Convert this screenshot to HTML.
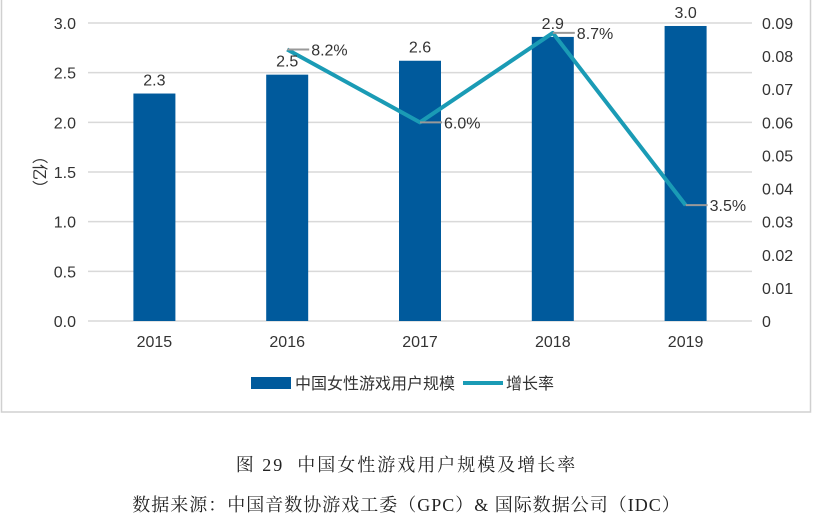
<!DOCTYPE html>
<html><head><meta charset="utf-8"><style>
body{margin:0;background:#fff;width:813px;height:526px;overflow:hidden;font-family:"Liberation Sans","Noto Sans CJK SC",sans-serif}
.cap{position:absolute;left:0;width:813px;text-align:center;font-family:"Liberation Serif","Noto Serif CJK SC",serif;font-size:18px;color:#222}
</style></head><body>
<svg width="813" height="526" style="position:absolute;left:0;top:0">
<rect x="1.5" y="-1" width="809" height="413" fill="none" stroke="#d0d0d0" stroke-width="1.5"/>
<g id="grid"></g><g id="bars"></g><g id="line"></g><g id="labels"></g>
<text transform="translate(34,172) rotate(90)" text-anchor="middle" font-size="16" fill="#333">（亿）</text>
<g>
<rect x="251" y="377" width="40" height="12" fill="#005a9c"/>
<text x="295" y="389" font-size="16" fill="#333">中国女性游戏用户规模</text>
<rect x="463" y="381" width="40" height="4" fill="#1a9bb5"/>
<text x="506" y="389" font-size="16" fill="#333">增长率</text>
</g>
</svg>
<div class="cap" style="top:451px;letter-spacing:2px">图 29&nbsp; 中国女性游戏用户规模及增长率</div>
<div class="cap" style="top:491px;letter-spacing:1px">数据来源：中国音数协游戏工委（GPC）&amp; 国际数据公司（IDC）</div>
<script>
const categories=["2015","2016","2017","2018","2019"];
const users=[2.29,2.48,2.62,2.86,2.97];
const userLabels=["2.3","2.5","2.6","2.9","3.0"];
const growth=[null,0.082,0.060,0.087,0.035];
const growthLabels=[null,"8.2%","6.0%","8.7%","3.5%"];
const leftTicks=[0,0.5,1,1.5,2,2.5,3];
const rightTicks=[0,0.01,0.02,0.03,0.04,0.05,0.06,0.07,0.08,0.09];
const NS="http://www.w3.org/2000/svg";
const x0=88,x1=752,yb=321,yt=23;
const xs=i=>x0+(x1-x0)*(i+0.5)/categories.length;
const yl=v=>yb-(yb-yt)*v/3;
const yr=v=>yb-(yb-yt)*v/0.09;
function mk(p,t,a){const e=document.createElementNS(NS,t);for(const k in a)e.setAttribute(k,a[k]);p.appendChild(e);return e;}
const G=document.getElementById('grid'),B=document.getElementById('bars'),L=document.getElementById('line'),T=document.getElementById('labels');
leftTicks.forEach(v=>{const l=mk(G,'line',{x1:x0,x2:x1,y1:yl(v),y2:yl(v),stroke:'#d9d9d9','stroke-width':1.5});


const t=mk(G,'text',{x:76,y:yl(v)+6,'text-anchor':'end','font-size':16,fill:'#333'});t.textContent=v.toFixed(1);

});
rightTicks.forEach(v=>{const t=mk(G,'text',{x:762,y:yr(v)+6,'font-size':16,fill:'#333'});t.textContent=v===0?'0':v.toFixed(2);

});
categories.forEach((c,i)=>{const x=xs(i);
const r=mk(B,'rect',{x:x-21,y:yl(users[i]),width:42,height:yb-yl(users[i]),fill:'#005a9c'});


const t=mk(T,'text',{x:x,y:yl(users[i])-8,'text-anchor':'middle','font-size':16,fill:'#333'});t.textContent=userLabels[i];


const ct=mk(T,'text',{x:x,y:347,'text-anchor':'middle','font-size':16,fill:'#333'});ct.textContent=c;

});
let pts=[];growth.forEach((g,i)=>{if(g!==null)pts.push([xs(i),yr(g),i]);});
const pl=mk(L,'polyline',{points:pts.map(p=>p[0]+','+p[1]).join(' '),fill:'none',stroke:'#1a9bb5','stroke-width':4,'stroke-linejoin':'round'});


pts.forEach(p=>{const ld=mk(T,'line',{x1:p[0],x2:p[0]+22,y1:p[1],y2:p[1],stroke:'#999','stroke-width':2});


const t=mk(T,'text',{x:p[0]+24,y:p[1]+6,'font-size':16,fill:'#333'});t.textContent=growthLabels[p[2]];

});
</script>
</body></html>
